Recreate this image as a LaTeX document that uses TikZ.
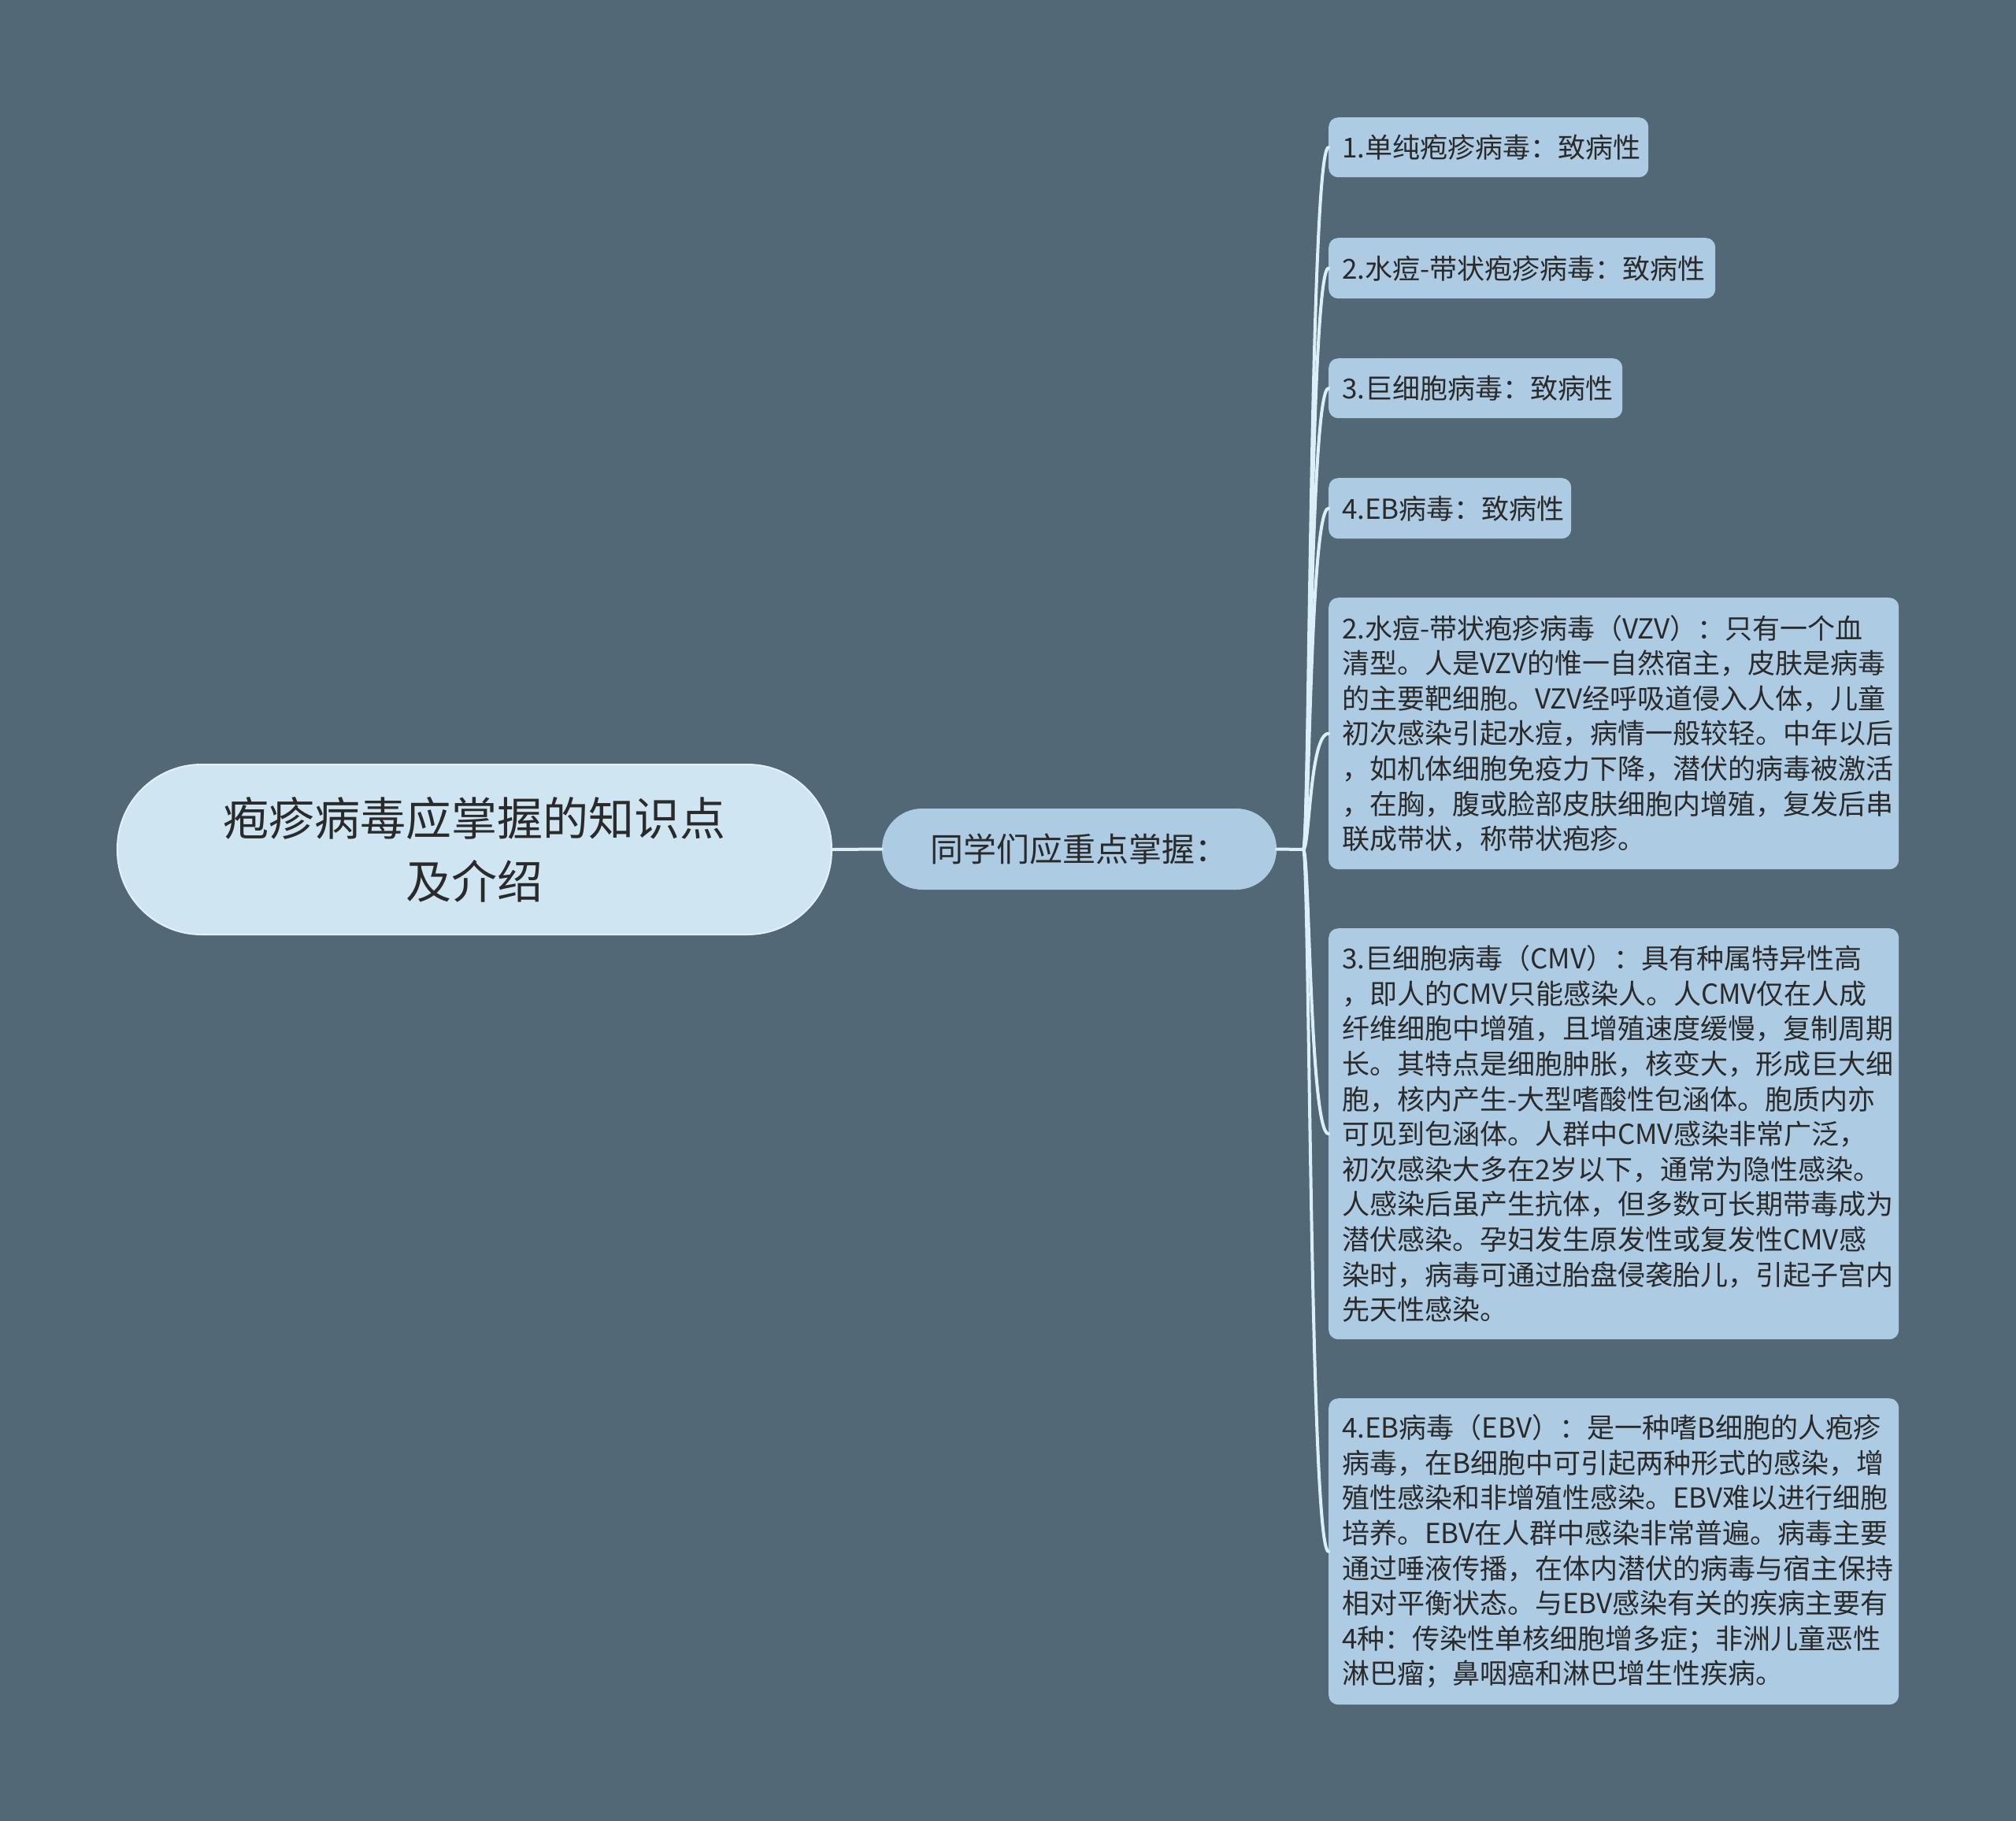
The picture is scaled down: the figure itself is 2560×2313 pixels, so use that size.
\documentclass[tikz,border=0pt]{standalone}
\usepackage{fontspec}
\newfontfamily\cjk{Noto Sans CJK SC}
\usetikzlibrary{calc}
\definecolor{bgc}{HTML}{526877}
\definecolor{rootfill}{HTML}{CFE6F2}
\definecolor{rootedge}{HTML}{E2F1F9}
\definecolor{leaffill}{HTML}{ADCBE2}
\definecolor{linec}{HTML}{DAEFF8}
\definecolor{txt}{HTML}{2A2A2A}
\newcommand{\myleaffont}{\cjk\fontsize{35}{44.6}\selectfont\exhyphenpenalty=10000\relax\hyphenpenalty=10000\relax}
\begin{document}
\begin{tikzpicture}[x=1pt,y=-1pt,
  rootbox/.style={draw=rootedge, line width=2pt, fill=rootfill, rounded corners=107pt,
    minimum width=907pt, minimum height=216pt, inner sep=0pt, align=center,
    text=txt, font=\cjk\fontsize{58}{80}\selectfont},
  midbox/.style={fill=leaffill, rounded corners=51pt, minimum width=501pt,
    minimum height=103pt, inner sep=0pt, text=txt, font=\cjk\fontsize{42}{52}\selectfont},
  leafbox/.style={fill=leaffill, rounded corners=12pt, anchor=north west,
    inner xsep=17pt, inner ysep=0pt, align=left, text=txt,
    font=\myleaffont},
  conn/.style={draw=linec, line width=4pt, line cap=round}
]
\useasboundingbox[fill=bgc] (0,0) rectangle (2560,2313);

\node[rootbox] (root) at (602.5,1079) {疱疹病毒应掌握的知识点\\及介绍};
\node[midbox] (mid) at (1370.5,1078.5) {同学们应重点掌握：};

\node[leafbox, text width=372pt, minimum height=76pt] (l1) at (1687,149) {1.单纯疱疹病毒：致病性};
\node[leafbox, text width=457pt, minimum height=77pt] (l2) at (1687,302) {2.水痘-带状疱疹病毒：致病性};
\node[leafbox, text width=339pt, minimum height=76pt] (l3) at (1687,455) {3.巨细胞病毒：致病性};
\node[leafbox, text width=274pt, minimum height=77pt] (l4) at (1687,607) {4.EB病毒：致病性};
\node[leafbox, text width=690pt, minimum height=345pt] (l5) at (1687,759) {2.水痘-带状疱疹病毒（VZV）：只有一个血\\
清型。人是VZV的惟一自然宿主，皮肤是病毒\\
的主要靶细胞。VZV经呼吸道侵入人体，儿童\\
初次感染引起水痘，病情一般较轻。中年以后\\
，如机体细胞免疫力下降，潜伏的病毒被激活\\
，在胸，腹或脸部皮肤细胞内增殖，复发后串\\
联成带状，称带状疱疹。};
\node[leafbox, text width=690pt, minimum height=522pt] (l6) at (1687,1179) {3.巨细胞病毒（CMV）：具有种属特异性高\\
，即人的CMV只能感染人。人CMV仅在人成\\
纤维细胞中增殖，且增殖速度缓慢，复制周期\\
长。其特点是细胞肿胀，核变大，形成巨大细\\
胞，核内产生-大型嗜酸性包涵体。胞质内亦\\
可见到包涵体。人群中CMV感染非常广泛，\\
初次感染大多在2岁以下，通常为隐性感染。\\
人感染后虽产生抗体，但多数可长期带毒成为\\
潜伏感染。孕妇发生原发性或复发性CMV感\\
染时，病毒可通过胎盘侵袭胎儿，引起子宫内\\
先天性感染。};
\node[leafbox, text width=690pt, minimum height=389pt] (l7) at (1687,1776) {4.EB病毒（EBV）：是一种嗜B细胞的人疱疹\\
病毒，在B细胞中可引起两种形式的感染，增\\
殖性感染和非增殖性感染。EBV难以进行细胞\\
培养。EBV在人群中感染非常普遍。病毒主要\\
通过唾液传播，在体内潜伏的病毒与宿主保持\\
相对平衡状态。与EBV感染有关的疾病主要有\\
4种：传染性单核细胞增多症；非洲儿童恶性\\
淋巴瘤；鼻咽癌和淋巴增生性疾病。};

\coordinate (j) at (1655,1079);
\draw[conn] (root.east) -- (mid.west);
\draw[conn] (mid.east) -- (j);
\foreach \n in {l1,l2,l3,l4,l5,l6,l7}{
  \draw[conn] (j) .. controls ($(j)+(8,0)$) and ($(\n.west)+(-24,0)$) .. (\n.west);
}
\end{tikzpicture}
\end{document}
